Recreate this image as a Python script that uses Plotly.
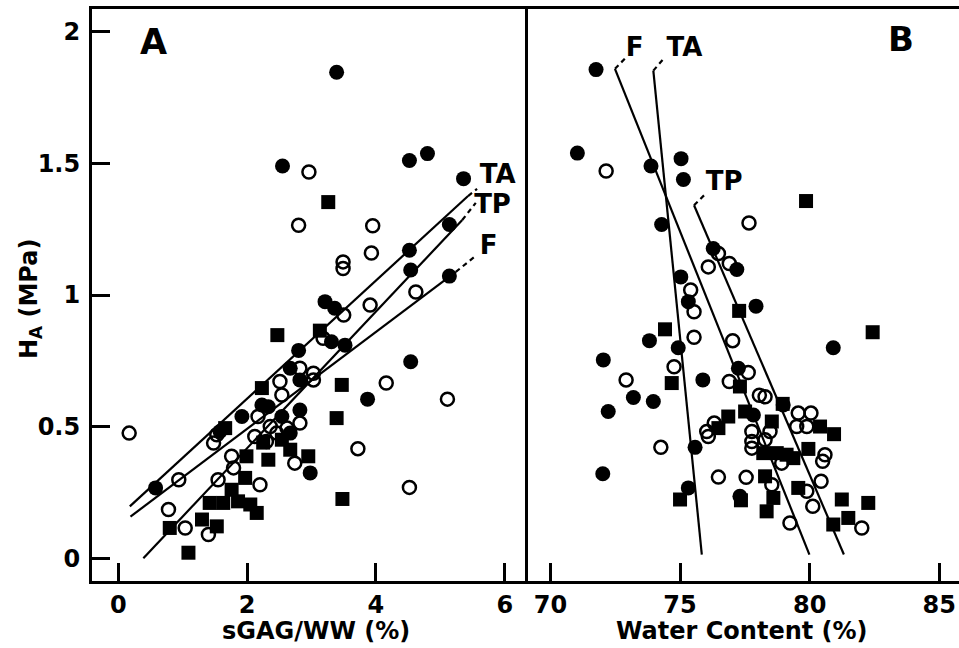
import plotly.graph_objects as go

# ---------------- Panel A : H_A vs sGAG/WW (%) ----------------
a_filled_x = [3.39, 2.55, 4.52, 4.80, 5.36, 5.14, 4.52, 4.54, 5.14, 3.21, 3.36, 3.31, 3.52, 2.80,
              2.67, 2.82, 2.23, 2.33, 1.92, 2.82, 1.58, 4.54, 3.87, 2.98, 0.58, 2.54, 2.67]
a_filled_y = [1.846, 1.49, 1.511, 1.537, 1.442, 1.268, 1.17, 1.095, 1.072, 0.975, 0.95, 0.823, 0.81, 0.79,
              0.722, 0.678, 0.583, 0.576, 0.539, 0.564, 0.482, 0.747, 0.605, 0.325, 0.268, 0.539, 0.476]

a_open_x = [2.96, 2.80, 3.95, 3.93, 3.49, 3.49, 4.62, 3.91, 3.50, 3.18, 2.82, 3.03, 3.03, 2.51, 2.54,
            2.17, 4.16, 5.11, 0.17, 3.72, 4.52, 2.74, 1.48, 1.53, 1.76, 1.79, 1.55, 2.20, 0.94, 0.78,
            1.04, 1.40, 2.36, 2.46, 2.62, 2.82, 2.30, 2.12]
a_open_y = [1.467, 1.265, 1.263, 1.160, 1.126, 1.101, 1.012, 0.962, 0.924, 0.836, 0.722, 0.703, 0.678,
            0.672, 0.621, 0.539, 0.666, 0.605, 0.476, 0.417, 0.270, 0.362, 0.438, 0.470, 0.388, 0.344,
            0.299, 0.280, 0.299, 0.186, 0.116, 0.091, 0.501, 0.476, 0.495, 0.514, 0.444, 0.463]

a_square_x = [3.26, 2.47, 3.13, 2.23, 3.47, 3.39, 3.48, 2.95, 1.66, 1.99, 2.33, 1.97, 1.76, 1.42, 1.63,
              1.86, 2.05, 2.15, 1.30, 1.53, 0.80, 1.09, 2.54, 2.67, 2.25]
a_square_y = [1.353, 0.848, 0.865, 0.647, 0.659, 0.533, 0.226, 0.388, 0.495, 0.388, 0.375, 0.306, 0.261,
              0.211, 0.211, 0.217, 0.205, 0.173, 0.148, 0.122, 0.116, 0.022, 0.451, 0.413, 0.440]

# regression lines (start, end) and label leaders (end -> tip), panel A
a_fit_names = ["TA", "TP", "F"]
a_fit_x = [[0.18, 5.43], [0.39, 5.34], [0.19, 5.24]]
a_fit_y = [[0.198, 1.376], [0.001, 1.285], [0.159, 1.088]]
a_lead_x = [[5.43, 5.57], [5.34, 5.55], [5.24, 5.55]]
a_lead_y = [[1.376, 1.403], [1.285, 1.350], [1.088, 1.149]]
a_label_x = [5.89, 5.81, 5.75]
a_label_y = [1.452, 1.336, 1.179]

# ---------------- Panel B : H_A vs Water Content (%) ----------------
b_filled_x = [71.76, 71.04, 73.88, 75.04, 75.13, 74.29, 76.28, 77.19, 75.03, 75.32, 77.93, 73.82, 74.93,
              80.91, 72.04, 75.88, 77.25, 73.20, 73.97, 72.23, 75.58, 72.02, 75.32, 77.31, 77.83, 78.98]
b_filled_y = [1.856, 1.539, 1.490, 1.518, 1.439, 1.268, 1.177, 1.097, 1.069, 0.975, 0.958, 0.827, 0.800,
              0.800, 0.754, 0.678, 0.722, 0.611, 0.596, 0.558, 0.422, 0.322, 0.268, 0.236, 0.545, 0.583]

b_open_x = [72.15, 77.66, 76.48, 76.90, 76.09, 75.41, 75.54, 75.54, 77.03, 74.77, 77.63, 76.90, 72.92,
            78.06, 78.28, 79.56, 80.05, 79.50, 79.89, 76.32, 76.03, 76.09, 77.77, 77.77, 77.77, 78.28,
            78.47, 74.26, 76.48, 77.55, 78.54, 78.92, 80.59, 80.50, 80.44, 79.89, 80.12, 79.24, 82.01]
b_open_y = [1.471, 1.274, 1.158, 1.120, 1.107, 1.019, 0.937, 0.840, 0.827, 0.728, 0.706, 0.672, 0.678,
            0.620, 0.614, 0.552, 0.552, 0.501, 0.501, 0.514, 0.482, 0.463, 0.482, 0.444, 0.419, 0.451,
            0.482, 0.422, 0.309, 0.308, 0.280, 0.362, 0.394, 0.369, 0.293, 0.255, 0.198, 0.135, 0.116]

b_square_x = [79.86, 82.43, 74.42, 77.28, 74.68, 77.31, 78.96, 78.54, 77.51, 76.86, 76.48, 80.40, 80.94,
              79.95, 78.21, 78.73, 79.11, 79.37, 78.28, 75.00, 77.35, 78.60, 78.34, 79.56, 81.24, 82.26,
              81.49, 80.91]
b_square_y = [1.357, 0.859, 0.870, 0.940, 0.666, 0.653, 0.587, 0.520, 0.558, 0.539, 0.495, 0.501, 0.472,
              0.416, 0.400, 0.400, 0.394, 0.381, 0.312, 0.224, 0.221, 0.230, 0.179, 0.268, 0.224, 0.211,
              0.154, 0.129]

b_fit_names = ["F", "TA", "TP"]
b_fit_x = [[72.49, 79.99], [73.97, 75.84], [75.54, 81.32]]
b_fit_y = [[1.859, 0.015], [1.852, 0.015], [1.341, 0.015]]
b_lead_x = [[72.49, 72.88], [73.97, 74.34], [75.54, 75.93]]
b_lead_y = [[1.859, 1.898], [1.852, 1.894], [1.341, 1.379]]
b_label_x = [73.25, 75.17, 76.70]
b_label_y = [1.934, 1.931, 1.422]

x_a_ticks = [0, 2, 4, 6]
x_b_ticks = [70, 75, 80, 85]
y_ticks = [0, 0.5, 1, 1.5, 2]
y_tick_text = ["0", "0.5", "1", "1.5", "2"]

FONT = "DejaVu Sans"
BLACK = "#000000"

fig = go.Figure()


def add_panel(xa, ya, fx, fy, ox, oy, sx, sy, fitx, fity, ldx, ldy, names, lx, ly):
    for i in range(len(fitx)):
        fig.add_trace(go.Scatter(x=fitx[i], y=fity[i], mode="lines", xaxis=xa, yaxis=ya,
                                 line=dict(color=BLACK, width=2.2), showlegend=False, hoverinfo="skip"))
        fig.add_trace(go.Scatter(x=ldx[i], y=ldy[i], mode="lines", xaxis=xa, yaxis=ya,
                                 line=dict(color=BLACK, width=2.2, dash="5px,4px"),
                                 showlegend=False, hoverinfo="skip"))
    fig.add_trace(go.Scatter(x=ox, y=oy, mode="markers", xaxis=xa, yaxis=ya, showlegend=False,
                             marker=dict(symbol="circle-open", size=13, color=BLACK,
                                         line=dict(width=2.5, color=BLACK))))
    fig.add_trace(go.Scatter(x=sx, y=sy, mode="markers", xaxis=xa, yaxis=ya, showlegend=False,
                             marker=dict(symbol="square", size=14, color=BLACK, line=dict(width=0))))
    fig.add_trace(go.Scatter(x=fx, y=fy, mode="markers", xaxis=xa, yaxis=ya, showlegend=False,
                             marker=dict(symbol="circle", size=15, color=BLACK, line=dict(width=0))))
    fig.add_trace(go.Scatter(x=lx, y=ly, mode="text", text=names, xaxis=xa, yaxis=ya,
                             showlegend=False, hoverinfo="skip",
                             textfont=dict(family=FONT, size=26, color=BLACK, weight="bold")))


add_panel("x", "y", a_filled_x, a_filled_y, a_open_x, a_open_y, a_square_x, a_square_y,
          a_fit_x, a_fit_y, a_lead_x, a_lead_y, a_fit_names, a_label_x, a_label_y)
add_panel("x2", "y2", b_filled_x, b_filled_y, b_open_x, b_open_y, b_square_x, b_square_y,
          b_fit_x, b_fit_y, b_lead_x, b_lead_y, b_fit_names, b_label_x, b_label_y)

W, H = 959, 648
x_split = 525 / W
axis_common = dict(showgrid=False, zeroline=False, showline=True, linecolor=BLACK, linewidth=3,
                   ticks="inside", ticklen=18, tickwidth=2.5, tickcolor=BLACK,
                   tickfont=dict(family=FONT, size=24, color=BLACK, weight="bold"),
                   automargin=False)

title_font = dict(family=FONT, size=24, color=BLACK, weight="bold")

fig.update_layout(
    width=W, height=H,
    margin=dict(l=0, r=0, t=0, b=0),
    paper_bgcolor="white", plot_bgcolor="white",
    xaxis=dict(domain=[92 / W, x_split], range=[-0.407, 6.314], tickvals=x_a_ticks,
               mirror=True, anchor="y", **axis_common),
    xaxis2=dict(domain=[x_split, 1.0], range=[69.02, 85.76], tickvals=x_b_ticks,
                mirror=True, anchor="y2", **axis_common),
    yaxis=dict(domain=[1 - 581 / H, 1 - 9 / H], range=[-0.0854, 2.086], tickvals=y_ticks,
               ticktext=y_tick_text, mirror=True, anchor="x", ticklabelstandoff=4, **axis_common),
    yaxis2=dict(domain=[1 - 581 / H, 1 - 9 / H], range=[-0.0854, 2.086], anchor="x2",
                showgrid=False, zeroline=False, showline=False, showticklabels=False, ticks=""),
    font=dict(family=FONT, color=BLACK),
    annotations=[
        dict(text="A", x=0.54, y=1.961, xref="x", yref="y", showarrow=False,
             xanchor="center", yanchor="middle",
             font=dict(family=FONT, size=35, color=BLACK, weight="bold")),
        dict(text="B", x=83.51, y=1.972, xref="x2", yref="y2", showarrow=False,
             xanchor="center", yanchor="middle",
             font=dict(family=FONT, size=34, color=BLACK, weight="bold")),
        dict(text="sGAG/WW (%)", x=316 / W, y=1 - 631 / H, xref="paper", yref="paper",
             xanchor="center", yanchor="middle", showarrow=False, font=title_font),
        dict(text="Water Content (%)", x=742 / W, y=1 - 631 / H, xref="paper", yref="paper",
             xanchor="center", yanchor="middle", showarrow=False, font=title_font),
        dict(text="H<sub>A</sub> (MPa)", x=31 / W, y=1 - 299 / H, xref="paper", yref="paper",
             xanchor="center", yanchor="middle", textangle=-90, showarrow=False, font=title_font),
    ],
)

fig.write_html("out.html", config={"displayModeBar": False},
               post_script="document.body.style.margin='0';")
